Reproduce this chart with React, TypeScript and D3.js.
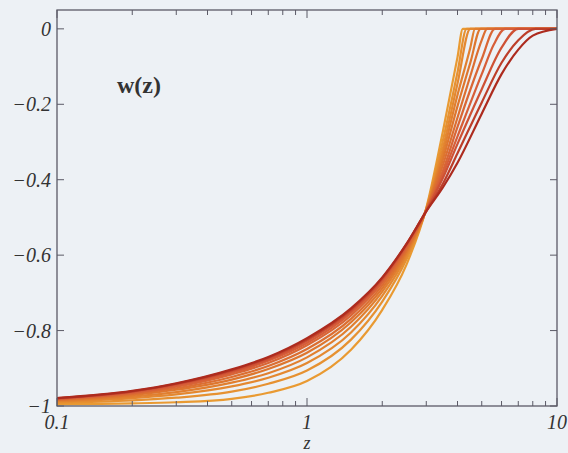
import * as d3 from "d3";
import type { ReactElement } from "react";

const WIDTH = 568;
const HEIGHT = 453;
const M = { left: 57, right: 11, top: 10, bottom: 47 };

// axis labels
const X_LABELS = [0.1, 1, 10];
const Y_LABELS = [0, -0.2, -0.4, -0.6, -0.8, -1];

// w(z) family, (z, w) pairs; orange (early cut-off) to dark red
const curve01: Array<[number, number]> = [[0.1, -0.995], [0.2, -0.993], [0.3, -0.99], [0.5, -0.981], [0.7, -0.965], [1, -0.934], [1.5, -0.851], [2, -0.745], [2.5, -0.625], [3, -0.475], [3.5, -0.27], [4, -0.075], [4.2, 0], [10, 0]];
const curve02: Array<[number, number]> = [[0.1, -0.991], [0.2, -0.985], [0.3, -0.978], [0.5, -0.962], [0.7, -0.941], [1, -0.906], [1.5, -0.824], [2, -0.723], [2.5, -0.611], [3, -0.477], [3.5, -0.295], [4, -0.115], [4.35, 0], [10, 0]];
const curve03: Array<[number, number]> = [[0.1, -0.988], [0.2, -0.979], [0.3, -0.969], [0.5, -0.948], [0.7, -0.925], [1, -0.886], [1.5, -0.805], [2, -0.708], [2.5, -0.602], [3, -0.478], [3.5, -0.315], [4, -0.145], [4.5, 0], [10, 0]];
const curve04: Array<[number, number]> = [[0.1, -0.986], [0.2, -0.975], [0.3, -0.963], [0.5, -0.938], [0.7, -0.913], [1, -0.871], [1.5, -0.79], [2, -0.697], [2.5, -0.595], [3, -0.479], [3.5, -0.33], [4, -0.175], [4.5, -0.05], [4.7, 0], [10, 0]];
const curve05: Array<[number, number]> = [[0.1, -0.984], [0.2, -0.971], [0.3, -0.957], [0.5, -0.93], [0.7, -0.902], [1, -0.859], [1.5, -0.778], [2, -0.688], [2.5, -0.589], [3, -0.48], [3.5, -0.345], [4, -0.205], [4.5, -0.09], [4.95, 0], [10, 0]];
const curve06: Array<[number, number]> = [[0.1, -0.983], [0.2, -0.968], [0.3, -0.953], [0.5, -0.923], [0.7, -0.894], [1, -0.849], [1.5, -0.769], [2, -0.68], [2.5, -0.584], [3, -0.481], [3.5, -0.36], [4, -0.235], [4.5, -0.125], [5, -0.03], [5.25, 0], [10, 0]];
const curve07: Array<[number, number]> = [[0.1, -0.982], [0.2, -0.966], [0.3, -0.949], [0.5, -0.916], [0.7, -0.886], [1, -0.839], [1.5, -0.76], [2, -0.673], [2.5, -0.579], [3, -0.481], [3.5, -0.375], [4, -0.26], [5, -0.08], [5.65, 0], [10, 0]];
const curve08: Array<[number, number]> = [[0.1, -0.981], [0.2, -0.964], [0.3, -0.946], [0.5, -0.912], [0.7, -0.88], [1, -0.833], [1.5, -0.753], [2, -0.668], [2.5, -0.576], [3, -0.482], [3.5, -0.385], [4, -0.285], [5, -0.12], [5.6, -0.04], [6.2, 0], [10, 0]];
const curve09: Array<[number, number]> = [[0.1, -0.98], [0.2, -0.962], [0.3, -0.943], [0.5, -0.908], [0.7, -0.876], [1, -0.827], [1.5, -0.748], [2, -0.664], [2.5, -0.573], [3, -0.482], [3.5, -0.395], [4, -0.305], [5, -0.16], [6, -0.05], [7, 0], [10, 0]];
const curve10: Array<[number, number]> = [[0.1, -0.979], [0.2, -0.961], [0.3, -0.941], [0.5, -0.905], [0.7, -0.872], [1, -0.823], [1.5, -0.744], [2, -0.661], [2.5, -0.571], [3, -0.483], [3.5, -0.41], [4, -0.33], [5, -0.195], [6, -0.09], [7, -0.03], [8.2, 0], [10, 0]];
const curve11: Array<[number, number]> = [[0.1, -0.979], [0.2, -0.96], [0.3, -0.94], [0.5, -0.903], [0.7, -0.87], [1, -0.82], [1.5, -0.741], [2, -0.659], [2.5, -0.57], [3, -0.484], [3.5, -0.42], [4, -0.355], [5, -0.225], [6, -0.12], [7, -0.055], [8, -0.018], [10, 0]];

const CURVES = [curve01, curve02, curve03, curve04, curve05, curve06, curve07, curve08, curve09, curve10, curve11];

const AXIS = "#5b5a66";
const SERIF = "'Liberation Serif', 'DejaVu Serif', serif";

export default function App(): ReactElement {
  const x = d3.scaleLog().domain([0.1, 10]).range([M.left, WIDTH - M.right]);
  const y = d3.scaleLinear().domain([-1, 0.05]).range([HEIGHT - M.bottom, M.top]);
  const x0 = M.left;
  const x1 = WIDTH - M.right;
  const y0 = M.top;
  const y1 = HEIGHT - M.bottom;

  const color = d3
    .scaleLinear<string>()
    .domain([0, 0.4, 0.75, 1])
    .range(["#e99a32", "#de762e", "#d65a3a", "#ad2b1e"]);

  const line = d3
    .line<[number, number]>()
    .x((d) => x(d[0]))
    .y((d) => y(d[1]))
    .curve(d3.curveMonotoneX);

  const xTicks = x.ticks();
  const fmt = d3.format("~g");

  return (
    <svg
      width={WIDTH}
      height={HEIGHT}
      style={{ position: "absolute", left: 0, top: 0 }}
    >
      <rect width={WIDTH} height={HEIGHT} fill="#edf1f5" />
      <defs>
        <clipPath id="plot-clip">
          <rect x={x0} y={y0} width={x1 - x0} height={y1 - y0} />
        </clipPath>
      </defs>

      <g clipPath="url(#plot-clip)">
        {CURVES.map((c, i) => (
          <path
            key={i}
            d={line(c) ?? ""}
            fill="none"
            stroke={color(i / (CURVES.length - 1))}
            strokeWidth={2.2}
            strokeLinejoin="round"
          />
        ))}
      </g>

      {/* frame */}
      <rect x={x0} y={y0} width={x1 - x0} height={y1 - y0} fill="none" stroke={AXIS} strokeWidth={1.3} />

      {/* z ticks, bottom and top, pointing in */}
      {xTicks.map((t) => {
        const major = X_LABELS.includes(+t.toFixed(3));
        const len = major ? 8 : 5;
        return (
          <g key={`xt-${t}`}>
            <line x1={x(t)} x2={x(t)} y1={y1} y2={y1 - len} stroke={AXIS} strokeWidth={1} />
            <line x1={x(t)} x2={x(t)} y1={y0} y2={y0 + len} stroke={AXIS} strokeWidth={1} />
          </g>
        );
      })}
      {X_LABELS.map((t) => (
        <text
          key={`xl-${t}`}
          x={x(t)}
          y={429}
          textAnchor="middle"
          fontFamily={SERIF}
          fontStyle="italic"
          fontSize={20}
          fill="#333"
        >
          {fmt(t)}
        </text>
      ))}

      {/* w ticks, left and right */}
      {Y_LABELS.map((t) => (
        <g key={`yt-${t}`}>
          <line x1={x0} x2={x0 + 7} y1={y(t)} y2={y(t)} stroke={AXIS} strokeWidth={1} />
          <line x1={x1} x2={x1 - 7} y1={y(t)} y2={y(t)} stroke={AXIS} strokeWidth={1} />
          <text
            x={51}
            y={y(t) + 7}
            textAnchor="end"
            fontFamily={SERIF}
            fontStyle="italic"
            fontSize={20}
            fill="#333"
          >
            {fmt(t)}
          </text>
        </g>
      ))}

      <text x={x(1)} y={449} textAnchor="middle" fontFamily={SERIF} fontStyle="italic" fontSize={18} fill="#333">
        z
      </text>
      <text x={117} y={93} fontFamily={SERIF} fontWeight="bold" fontSize={24} fill="#333">
        w(z)
      </text>
    </svg>
  );
}
